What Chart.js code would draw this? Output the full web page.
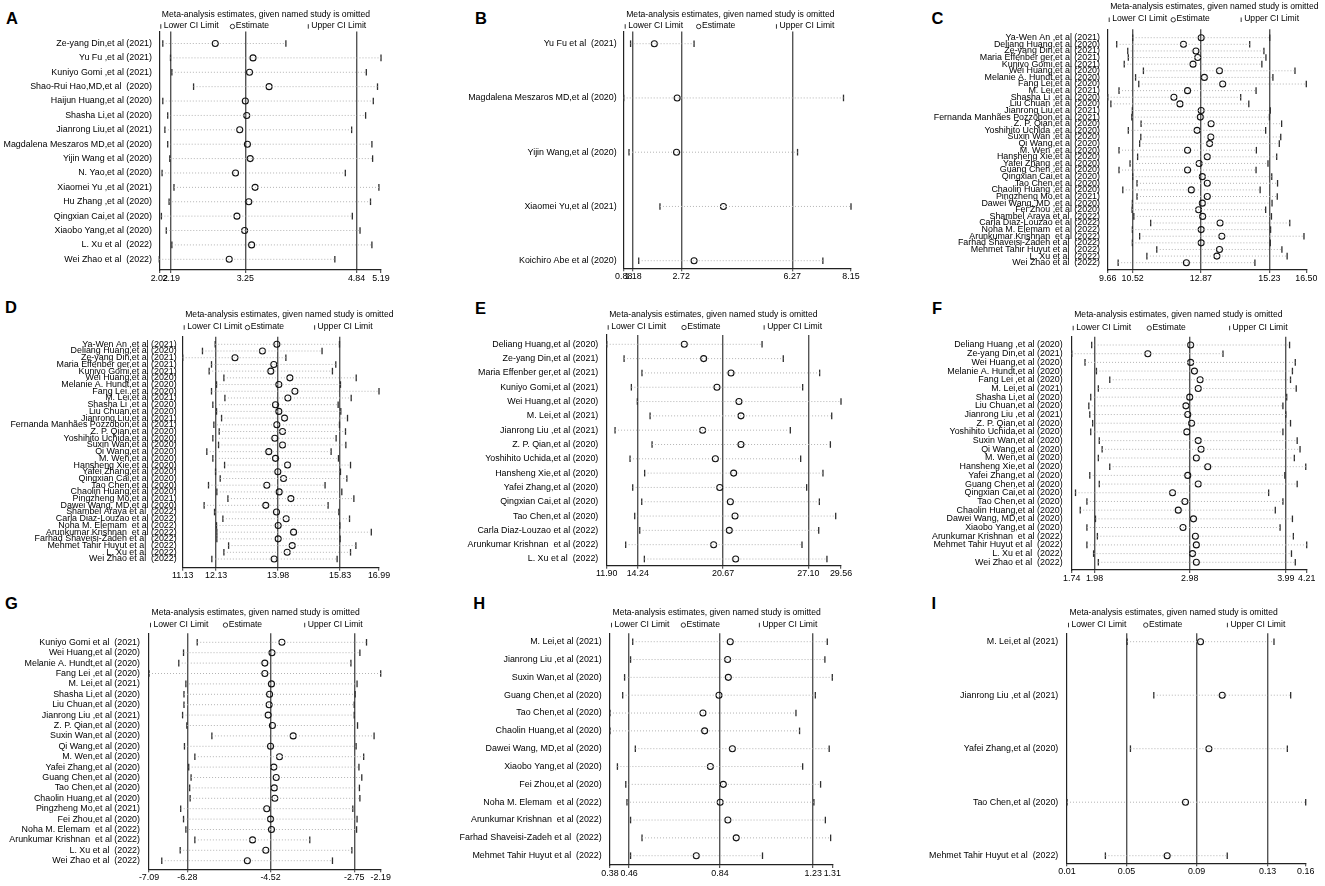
<!DOCTYPE html>
<html>
<head>
<meta charset="utf-8">
<title>Sensitivity analysis</title>
<script src="https://cdn.jsdelivr.net/npm/chart.js@4.4.1/dist/chart.umd.min.js"></script>
<style>
  body { margin: 0; background: #fff; }
  #page { position: relative; width: 1325px; height: 886px; overflow: hidden; font-family: 'Liberation Sans', Arial, sans-serif; }
  #page canvas { position: absolute; }
  .letter { position: absolute; font-weight: bold; font-size: 16.5px; line-height: 16.5px; color: #000; }
</style>
</head>
<body>
<div id="page"></div>
<script>
// ---- data ----
const studiesA = ['Ze-yang Din,et al (2021)', 'Yu Fu ,et al (2021)', 'Kuniyo Gomi ,et al (2021)', 'Shao-Rui Hao,MD,et al  (2020)', 'Haijun Huang,et al (2020)', 'Shasha Li,et al (2020)', 'Jianrong Liu,et al (2021)', 'Magdalena Meszaros MD,et al (2020)', 'Yijin Wang et al (2020)', 'N. Yao,et al (2020)', 'Xiaomei Yu ,et al (2021)', 'Hu Zhang ,et al (2020)', 'Qingxian Cai,et al (2020)', 'Xiaobo Yang,et al (2020)', 'L. Xu et al  (2022)', 'Wei Zhao et al  (2022)'];
const lowerA = [2.07, 2.18, 2.20, 2.51, 2.07, 2.14, 2.10, 2.14, 2.17, 2.06, 2.23, 2.16, 2.05, 2.12, 2.20, 2.02];
const estA = [2.82, 3.36, 3.31, 3.59, 3.25, 3.27, 3.17, 3.28, 3.32, 3.11, 3.39, 3.30, 3.13, 3.24, 3.34, 3.02];
const upperA = [3.83, 5.19, 4.98, 5.14, 5.08, 4.97, 4.77, 5.06, 5.07, 4.68, 5.16, 5.04, 4.78, 4.89, 5.06, 4.53];
const ticksA = [2.02, 2.19, 3.25, 4.84, 5.19];
const tickLabelsA = ['2.02', '2.19', '3.25', '4.84', '5.19'];

const studiesB = ['Yu Fu et al  (2021)', 'Magdalena Meszaros MD,et al (2020)', 'Yijin Wang,et al (2020)', 'Xiaomei Yu,et al (2021)', 'Koichiro Abe et al (2020)'];
const lowerB = [1.10, 0.88, 1.05, 2.04, 1.36];
const estB = [1.86, 2.59, 2.57, 4.07, 3.13];
const upperB = [3.13, 7.91, 6.44, 8.15, 7.25];
const ticksB = [0.88, 1.18, 2.72, 6.27, 8.15];
const tickLabelsB = ['0.88', '1.18', '2.72', '6.27', '8.15'];

const studiesC = ['Ya-Wen An ,et al (2021)', 'Deliang Huang,et al (2020)', 'Ze-yang Din,et al (2021)', 'Maria Effenber ger,et al (2021)', 'Kuniyo Gomi,et al (2021)', 'Wei Huang,et al (2020)', 'Melanie A. Hundt,et al (2020)', 'Fang Lei,et al (2020)', 'M. Lei,et al (2021)', 'Shasha Li ,et al (2020)', 'Liu Chuan ,et al (2020)', 'Jianrong Liu,et al (2021)', 'Fernanda Manhães Pozzobon,et al (2021)', 'Z. P. Qian,et al (2020)', 'Yoshihito Uchida ,et al (2020)', 'Suxin Wan ,et al (2020)', 'Qi Wang,et al (2020)', 'M. Wen ,et al (2020)', 'Hansheng Xie,et al (2020)', 'Yafei Zhang ,et al (2020)', 'Guang Chen ,et al (2020)', 'Qingxian Cai,et al (2020)', 'Tao Chen,et al (2020)', 'Chaolin Huang ,et al (2020)', 'Pingzheng Mo,et al (2021)', 'Dawei Wang, MD ,et al (2020)', 'Fei Zhou ,et al (2020)', 'Shambel Araya et al  (2022)', 'Carla Diaz-Louzao et al (2022)', 'Noha M. Elemam  et al (2022)', 'Arunkumar Krishnan  et al (2022)', 'Farhad Shaveisi-Zadeh et al  (2022)', 'Mehmet Tahir Huyut et al  (2022)', 'L. Xu et al  (2022)', 'Wei Zhao et al  (2022)'];
const lowerC = [10.52, 9.97, 10.35, 10.37, 10.23, 10.89, 10.62, 10.73, 10.05, 9.66, 9.77, 10.51, 10.49, 10.81, 10.37, 10.80, 10.76, 10.05, 10.69, 10.43, 10.05, 10.52, 10.67, 10.18, 10.67, 10.51, 10.50, 10.56, 11.14, 10.51, 10.76, 10.51, 11.35, 11.01, 10.02];
const estC = [12.88, 12.27, 12.70, 12.76, 12.60, 13.51, 12.99, 13.62, 12.41, 11.94, 12.15, 12.88, 12.85, 13.22, 12.74, 13.21, 13.17, 12.41, 13.09, 12.81, 12.41, 12.92, 13.09, 12.54, 13.09, 12.92, 12.79, 12.93, 13.53, 12.88, 13.59, 12.88, 13.51, 13.42, 12.37];
const upperC = [15.24, 14.55, 15.04, 15.11, 14.97, 16.11, 15.35, 16.50, 14.77, 14.24, 14.52, 15.26, 15.23, 15.65, 15.10, 15.62, 15.57, 14.78, 15.48, 15.18, 14.77, 15.31, 15.51, 14.91, 15.50, 15.32, 15.10, 15.30, 15.93, 15.27, 16.42, 15.26, 15.66, 15.84, 14.73];
const ticksC = [9.66, 10.52, 12.87, 15.23, 16.50];
const tickLabelsC = ['9.66', '10.52', '12.87', '15.23', '16.50'];

const studiesD = ['Ya-Wen An ,et al (2021)', 'Deliang Huang,et al (2020)', 'Ze-yang Din,et al (2021)', 'Maria Effenber ger,et al (2021)', 'Kuniyo Gomi,et al (2021)', 'Wei Huang,et al (2020)', 'Melanie A. Hundt,et al (2020)', 'Fang Lei ,et al (2020)', 'M. Lei,et al (2021)', 'Shasha Li ,et al (2020)', 'Liu Chuan,et al (2020)', 'Jianrong Liu,et al (2021)', 'Fernanda Manhães Pozzobon,et al (2021)', 'Z. P. Qian,et al (2020)', 'Yoshihito Uchida,et al (2020)', 'Suxin Wan,et al (2020)', 'Qi Wang,et al (2020)', 'M. Wen,et al (2020)', 'Hansheng Xie,et al (2020)', 'Yafei Zhang,et al (2020)', 'Qingxian Cai,et al (2020)', 'Tao Chen,et al (2020)', 'Chaolin Huang,et al (2020)', 'Pingzheng Mo,et al (2021)', 'Dawei Wang, MD,et al (2020)', 'Shambel Araya et al  (2022)', 'Carla Diaz-Louzao et al (2022)', 'Noha M. Elemam  et al (2022)', 'Arunkumar Krishnan  et al (2022)', 'Farhad Shaveisi-Zadeh et al  (2022)', 'Mehmet Tahir Huyut et al  (2022)', 'L. Xu et al  (2022)', 'Wei Zhao et al  (2022)'];
const lowerD = [12.10, 11.72, 11.13, 11.99, 11.92, 12.36, 12.14, 11.99, 12.39, 12.03, 12.14, 12.29, 12.06, 12.22, 12.03, 12.20, 11.85, 12.03, 12.38, 12.11, 12.25, 11.90, 12.15, 12.48, 11.77, 12.08, 12.33, 12.14, 12.15, 12.15, 12.50, 12.36, 12.00];
const estD = [13.94, 13.51, 12.69, 13.85, 13.76, 14.33, 14.00, 14.48, 14.27, 13.90, 14.00, 14.17, 13.94, 14.11, 13.88, 14.11, 13.70, 13.90, 14.26, 13.97, 14.14, 13.64, 14.01, 14.36, 13.61, 13.93, 14.22, 13.98, 14.44, 13.98, 14.40, 14.25, 13.86];
const upperD = [15.81, 15.29, 14.21, 15.70, 15.60, 16.31, 15.84, 16.99, 16.16, 15.77, 15.85, 16.05, 15.81, 15.99, 15.71, 16.00, 15.56, 15.78, 16.14, 15.84, 16.03, 15.38, 15.88, 16.24, 15.47, 15.79, 16.11, 15.82, 16.76, 15.83, 16.30, 16.14, 15.74];
const ticksD = [11.13, 12.13, 13.98, 15.83, 16.99];
const tickLabelsD = ['11.13', '12.13', '13.98', '15.83', '16.99'];

const studiesE = ['Deliang Huang,et al (2020)', 'Ze-yang Din,et al (2021)', 'Maria Effenber ger,et al (2021)', 'Kuniyo Gomi,et al (2021)', 'Wei Huang,et al (2020)', 'M. Lei,et al (2021)', 'Jianrong Liu ,et al (2021)', 'Z. P. Qian,et al (2020)', 'Yoshihito Uchida,et al (2020)', 'Hansheng Xie,et al (2020)', 'Yafei Zhang,et al (2020)', 'Qingxian Cai,et al (2020)', 'Tao Chen,et al (2020)', 'Carla Diaz-Louzao et al (2022)', 'Arunkumar Krishnan  et al (2022)', 'L. Xu et al  (2022)'];
const lowerE = [11.90, 13.21, 14.56, 13.76, 14.21, 15.17, 12.53, 15.32, 13.66, 14.76, 13.86, 14.54, 14.01, 14.39, 13.33, 14.74];
const estE = [17.75, 19.21, 21.27, 20.21, 21.87, 22.02, 19.13, 22.02, 20.09, 21.47, 20.42, 21.22, 21.57, 21.14, 19.96, 21.62];
const upperE = [23.61, 25.21, 27.95, 26.67, 29.56, 28.86, 25.74, 28.76, 26.52, 28.20, 26.97, 27.93, 29.16, 27.88, 26.62, 28.50];
const ticksE = [11.90, 14.24, 20.67, 27.10, 29.56];
const tickLabelsE = ['11.90', '14.24', '20.67', '27.10', '29.56'];

const studiesF = ['Deliang Huang ,et al (2020)', 'Ze-yang Din,et al (2021)', 'Wei Huang,et al (2020)', 'Melanie A. Hundt,et al (2020)', 'Fang Lei ,et al (2020)', 'M. Lei,et al (2021)', 'Shasha Li,et al (2020)', 'Liu Chuan,et al (2020)', 'Jianrong Liu ,et al (2021)', 'Z. P. Qian,et al (2020)', 'Yoshihito Uchida,et al (2020)', 'Suxin Wan,et al (2020)', 'Qi Wang,et al (2020)', 'M. Wen,et al (2020)', 'Hansheng Xie,et al (2020)', 'Yafei Zhang,et al (2020)', 'Guang Chen,et al (2020)', 'Qingxian Cai,et al (2020)', 'Tao Chen,et al (2020)', 'Chaolin Huang,et al (2020)', 'Dawei Wang, MD,et al (2020)', 'Xiaobo Yang,et al (2020)', 'Arunkumar Krishnan  et al (2022)', 'Mehmet Tahir Huyut et al  (2022)', 'L. Xu et al  (2022)', 'Wei Zhao et al  (2022)'];
const lowerF = [1.95, 1.74, 1.88, 2.00, 2.14, 2.02, 1.94, 1.92, 1.93, 1.96, 1.94, 2.03, 2.06, 2.02, 2.14, 1.93, 2.03, 1.78, 1.90, 1.83, 1.99, 1.90, 2.01, 1.90, 1.97, 2.02];
const estF = [2.99, 2.54, 2.99, 3.03, 3.09, 3.07, 2.98, 2.94, 2.96, 3.00, 2.95, 3.07, 3.10, 3.05, 3.17, 2.96, 3.07, 2.80, 2.93, 2.86, 3.02, 2.91, 3.04, 3.05, 3.01, 3.05];
const upperF = [4.03, 3.33, 4.09, 4.06, 4.04, 4.10, 4.00, 3.96, 3.99, 4.04, 3.96, 4.11, 4.14, 4.08, 4.20, 3.98, 4.11, 3.81, 3.96, 3.88, 4.06, 3.93, 4.07, 4.21, 4.05, 4.09];
const ticksF = [1.74, 1.98, 2.98, 3.99, 4.21];
const tickLabelsF = ['1.74', '1.98', '2.98', '3.99', '4.21'];

const studiesG = ['Kuniyo Gomi et al  (2021)', 'Wei Huang,et al (2020)', 'Melanie A. Hundt,et al (2020)', 'Fang Lei ,et al (2020)', 'M. Lei,et al (2021)', 'Shasha Li,et al (2020)', 'Liu Chuan,et al (2020)', 'Jianrong Liu ,et al (2021)', 'Z. P. Qian,et al (2020)', 'Suxin Wan,et al (2020)', 'Qi Wang,et al (2020)', 'M. Wen,et al (2020)', 'Yafei Zhang,et al (2020)', 'Guang Chen,et al (2020)', 'Tao Chen,et al (2020)', 'Chaolin Huang,et al (2020)', 'Pingzheng Mo,et al (2021)', 'Fei Zhou,et al (2020)', 'Noha M. Elemam  et al (2022)', 'Arunkumar Krishnan  et al (2022)', 'L. Xu et al  (2022)', 'Wei Zhao et al  (2022)'];
const lowerG = [-6.07, -6.36, -6.46, -7.09, -6.31, -6.35, -6.35, -6.38, -6.29, -5.76, -6.34, -6.12, -6.25, -6.20, -6.23, -6.22, -6.42, -6.36, -6.31, -6.12, -6.43, -6.82];
const estG = [-4.28, -4.49, -4.64, -4.64, -4.50, -4.54, -4.55, -4.57, -4.48, -4.04, -4.52, -4.33, -4.45, -4.40, -4.44, -4.43, -4.60, -4.52, -4.50, -4.90, -4.62, -5.01];
const upperG = [-2.49, -2.63, -2.82, -2.19, -2.69, -2.73, -2.75, -2.75, -2.68, -2.33, -2.71, -2.55, -2.65, -2.59, -2.64, -2.63, -2.78, -2.69, -2.70, -3.69, -2.80, -3.21];
const ticksG = [-7.09, -6.28, -4.52, -2.75, -2.19];
const tickLabelsG = ['-7.09', '-6.28', '-4.52', '-2.75', '-2.19'];

const studiesH = ['M. Lei,et al (2021)', 'Jianrong Liu ,et al (2021)', 'Suxin Wan,et al (2020)', 'Guang Chen,et al (2020)', 'Tao Chen,et al (2020)', 'Chaolin Huang,et al (2020)', 'Dawei Wang, MD,et al (2020)', 'Xiaobo Yang,et al (2020)', 'Fei Zhou,et al (2020)', 'Noha M. Elemam  et al (2022)', 'Arunkumar Krishnan  et al (2022)', 'Farhad Shaveisi-Zadeh et al  (2022)', 'Mehmet Tahir Huyut et al  (2022)'];
const lowerH = [0.475, 0.466, 0.441, 0.433, 0.380, 0.380, 0.486, 0.411, 0.446, 0.451, 0.466, 0.514, 0.466];
const estH = [0.883, 0.872, 0.875, 0.836, 0.769, 0.776, 0.892, 0.800, 0.854, 0.841, 0.873, 0.908, 0.741];
const upperH = [1.289, 1.279, 1.310, 1.239, 1.158, 1.173, 1.297, 1.186, 1.261, 1.233, 1.281, 1.303, 1.018];
const ticksH = [0.38, 0.46, 0.84, 1.23, 1.31];
const tickLabelsH = ['0.38', '0.46', '0.84', '1.23', '1.31'];

const studiesI = ['M. Lei,et al (2021)', 'Jianrong Liu ,et al (2021)', 'Yafei Zhang,et al (2020)', 'Tao Chen,et al (2020)', 'Mehmet Tahir Huyut et al  (2022)'];
const lowerI = [0.049, 0.065, 0.051, 0.013, 0.036];
const estI = [0.093, 0.106, 0.098, 0.084, 0.073];
const upperI = [0.137, 0.147, 0.145, 0.156, 0.109];
const ticksI = [0.013, 0.0486, 0.0906, 0.1332, 0.156];
const tickLabelsI = ['0.01', '0.05', '0.09', '0.13', '0.16'];

// ---- panel placement (pixels): cell = canvas box on page, plot = chart area inside canvas ----
const panels = [
  { id: 'A', names: studiesA, lower: lowerA, est: estA, upper: upperA, ticks: ticksA, labels: tickLabelsA,
    cell: [0, 0, 440, 295], plot: [159.3, 31.5, 381, 270], head: [14.3, 25.7], gap: [12, 10.7], pad: 7.3, letter: [6, 9.5] },
  { id: 'B', names: studiesB, lower: lowerB, est: estB, upper: upperB, ticks: ticksB, labels: tickLabelsB,
    cell: [440, 0, 440, 295], plot: [183.7, 31.5, 411, 268.3], head: [14.3, 25.7], gap: [12.2, 7.6], pad: 7, letter: [35, 9.5] },
  { id: 'C', names: studiesC, lower: lowerC, est: estC, upper: upperC, ticks: ticksC, labels: tickLabelsC,
    cell: [880, 0, 445, 295], plot: [227.7, 29.3, 426.3, 270], head: [6.7, 19], gap: [8.4, 7.3], pad: 7.7, letter: [51.5, 9.5] },
  { id: 'D', names: studiesD, lower: lowerD, est: estD, upper: upperD, ticks: ticksD, labels: tickLabelsD,
    cell: [0, 295, 440, 295], plot: [182.7, 41.7, 379, 272.7], head: [20, 31.7], gap: [7.6, 8.7], pad: 6, letter: [5, 3.5] },
  { id: 'E', names: studiesE, lower: lowerE, est: estE, upper: upperE, ticks: ticksE, labels: tickLabelsE,
    cell: [440, 295, 440, 295], plot: [166.7, 40, 401, 270.7], head: [20, 31.7], gap: [9.3, 6.7], pad: 8.4, letter: [35, 4.5] },
  { id: 'F', names: studiesF, lower: lowerF, est: estF, upper: upperF, ticks: ticksF, labels: tickLabelsF,
    cell: [880, 295, 445, 295], plot: [191.7, 41.7, 426.7, 275], head: [20, 32.3], gap: [8.3, 7.7], pad: 9, letter: [52, 4.5] },
  { id: 'G', names: studiesG, lower: lowerG, est: estG, upper: upperG, ticks: ticksG, labels: tickLabelsG,
    cell: [0, 590, 440, 296], plot: [149, 43.3, 380.7, 279.3], head: [22.7, 34.3], gap: [9, 8.6], pad: 9, letter: [5, 4.5] },
  { id: 'H', names: studiesH, lower: lowerH, est: estH, upper: upperH, ticks: ticksH, labels: tickLabelsH,
    cell: [440, 590, 440, 296], plot: [170, 43.3, 392.3, 275], head: [22.7, 34.3], gap: [8.4, 9.3], pad: 8.3, letter: [33.3, 4.5] },
  { id: 'I', names: studiesI, lower: lowerI, est: estI, upper: upperI, ticks: ticksI, labels: tickLabelsI,
    cell: [880, 590, 445, 296], plot: [187, 43.3, 425.7, 273.3], head: [22.7, 34.3], gap: [8.4, 7.6], pad: 8.7, letter: [51.5, 4.5] }
];

const FONT = "'Liberation Sans', Arial, Helvetica, sans-serif";
const FSIZE = 8.6;
Chart.defaults.font.family = FONT;
Chart.defaults.font.size = 8.9;
Chart.defaults.color = '#000';

// title + legend line above each plot, Stata style
const headerPlugin = {
  id: 'header',
  afterDraw(chart, args, opts) {
    const { ctx, chartArea: a } = chart;
    const w = a.right - a.left;
    const y = opts.legendY;
    const xs = [a.left + 1.5, a.left + 0.33 * w, a.left + 0.672 * w];
    ctx.save();
    ctx.font = FSIZE + 'px ' + FONT;
    ctx.fillStyle = '#000';
    ctx.textBaseline = 'middle';
    ctx.fillText('Meta-analysis estimates, given named study is omitted', a.left + 2.5, opts.titleY);
    ctx.strokeStyle = '#333';
    ctx.lineWidth = 1;
    [0, 2].forEach(k => {
      ctx.beginPath();
      ctx.moveTo(xs[k], y - 1.5);
      ctx.lineTo(xs[k], y + 3);
      ctx.stroke();
    });
    ctx.beginPath();
    ctx.arc(xs[1], y + 0.8, 2.2, 0, 2 * Math.PI);
    ctx.stroke();
    ctx.fillText('Lower CI Limit', xs[0] + 3, y);
    ctx.fillText('Estimate', xs[1] + 3.2, y);
    ctx.fillText('Upper CI Limit', xs[2] + 3, y);
    ctx.restore();
  }
};

const page = document.getElementById('page');

panels.forEach(p => {
  const [x0, y0, w, h] = p.cell;
  const letter = document.createElement('div');
  letter.className = 'letter';
  letter.textContent = p.id;
  letter.style.left = (x0 + p.letter[0]) + 'px';
  letter.style.top = (y0 + p.letter[1]) + 'px';
  page.appendChild(letter);

  const canvas = document.createElement('canvas');
  canvas.width = w;
  canvas.height = h;
  canvas.style.left = x0 + 'px';
  canvas.style.top = y0 + 'px';
  page.appendChild(canvas);

  const n = p.names.length;
  const rows = p.names.map((_, i) => i);
  // convert the pixel gaps above the first row / below the last row into axis units
  const unit = (p.plot[3] - p.plot[1] - p.gap[0] - p.gap[1]) / (n - 1);
  const yMin = -p.gap[0] / unit;
  const yMax = n - 1 + p.gap[1] / unit;

  // dotted CI segments, broken between rows
  const ciLine = [];
  rows.forEach(i => {
    ciLine.push({ x: p.lower[i], y: i }, { x: p.upper[i], y: i }, { x: p.upper[i], y: null });
  });

  const tickMark = { pointStyle: 'line', pointRotation: 90, pointRadius: 3.3, pointBorderColor: '#2e2e2e', pointBorderWidth: 1.3, pointHoverRadius: 3.3, clip: false };

  new Chart(canvas, {
    type: 'scatter',
    data: {
      datasets: [
        { label: 'CI', data: ciLine, showLine: true, spanGaps: false, borderColor: '#b4b4b4', borderWidth: 1, borderDash: [1, 2], pointRadius: 0, clip: false },
        Object.assign({ label: 'Lower CI Limit', data: rows.map(i => ({ x: p.lower[i], y: i })) }, tickMark),
        { label: 'Estimate', data: rows.map(i => ({ x: p.est[i], y: i })), pointStyle: 'circle', pointRadius: 3, pointHoverRadius: 3,
          pointBorderColor: '#111', pointBackgroundColor: 'rgba(0,0,0,0)', pointBorderWidth: 1.1, clip: false },
        Object.assign({ label: 'Upper CI Limit', data: rows.map(i => ({ x: p.upper[i], y: i })) }, tickMark)
      ]
    },
    options: {
      responsive: false,
      animation: false,
      events: [],
      layout: { padding: { left: 0, top: p.plot[1], right: w - p.plot[2], bottom: 0 } },
      plugins: {
        legend: { display: false },
        tooltip: { enabled: false },
        header: { titleY: p.head[0], legendY: p.head[1] }
      },
      scales: {
        x: {
          type: 'linear',
          min: p.ticks[0],
          max: p.ticks[4],
          afterBuildTicks: s => { s.ticks = p.ticks.map(v => ({ value: v })); },
          afterFit: s => { s.height = h - p.plot[3]; },
          ticks: { autoSkip: false, maxRotation: 0, minRotation: 0, padding: 0, color: '#000',
                   callback: (v, i) => p.labels[i] },
          grid: {
            color: c => (c.index === 0 || c.index === 4) ? 'rgba(0,0,0,0)' : '#555',
            lineWidth: 1.4,
            drawTicks: true,
            tickLength: 3,
            tickColor: '#333',
            tickWidth: 1
          },
          border: { display: true, color: '#222', width: 1.2 }
        },
        y: {
          type: 'linear',
          reverse: true,
          min: yMin,
          max: yMax,
          afterBuildTicks: s => { s.ticks = rows.map(i => ({ value: i })); },
          afterFit: s => { s.width = p.plot[0]; },
          ticks: { autoSkip: false, padding: p.pad, color: '#000', callback: v => p.names[v] },
          grid: { display: false, drawTicks: false },
          border: { display: true, color: '#222', width: 1.2 }
        }
      }
    },
    plugins: [headerPlugin]
  });
});
</script>
</body>
</html>
